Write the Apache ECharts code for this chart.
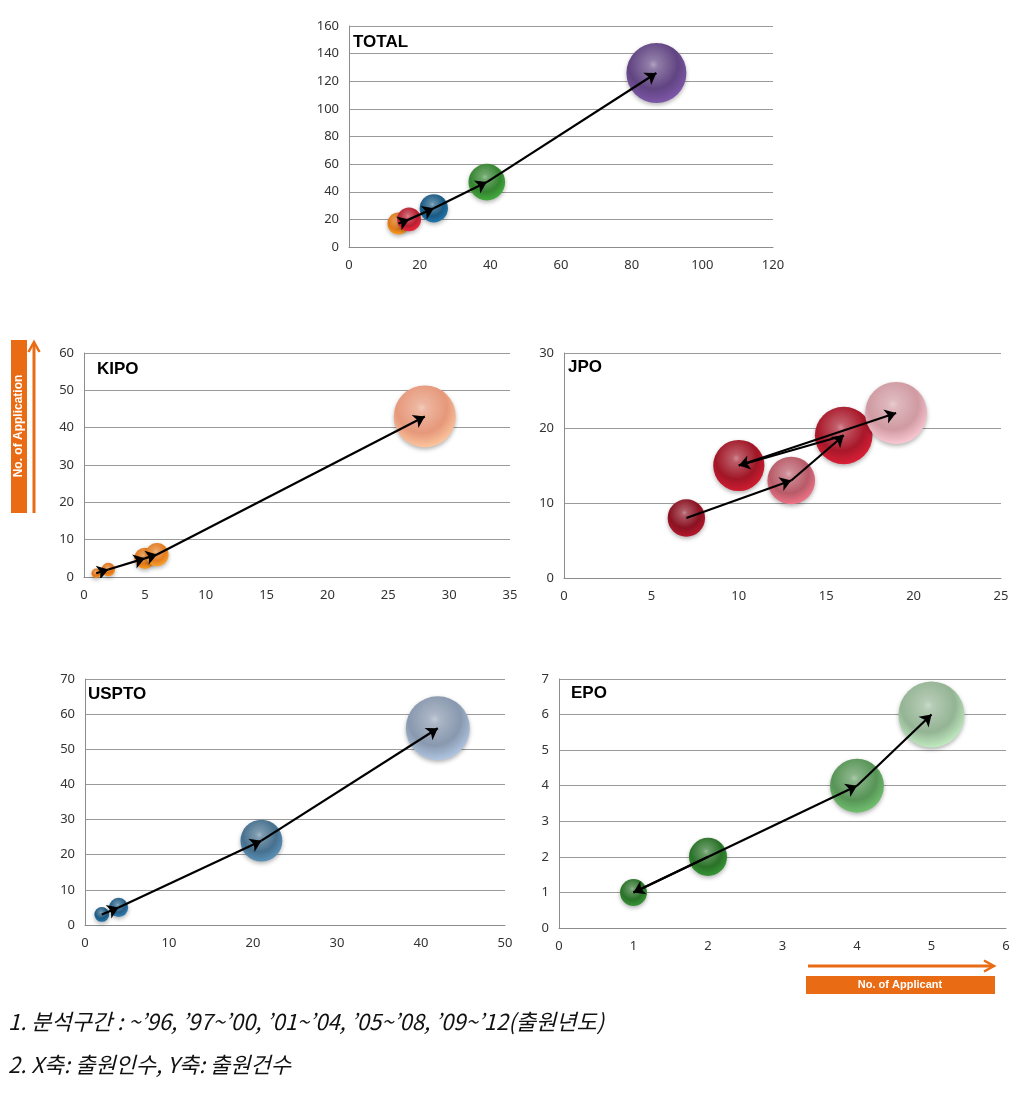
<!DOCTYPE html>
<html><head><meta charset="utf-8">
<script src="https://cdn.jsdelivr.net/npm/echarts@6/dist/echarts.min.js"></script>
<style>html,body{margin:0;padding:0;background:#fff}#c{width:1030px;height:1093px}</style>
</head><body><div id="c"></div>
<script>
// ---- data (x: 출원인수, y: 출원건수), in chronological order of periods ----
const totalX = [14, 17, 24, 39, 87];
const totalY = [17, 20, 28, 47, 126];
const kipoX  = [1, 2, 5, 6, 28];
const kipoY  = [1, 2, 5, 6, 43];
const jpoX   = [7, 13, 16, 10, 19];
const jpoY   = [8, 13, 19, 15, 22];
const usptoX = [2, 4, 21, 42];
const usptoY = [3, 5, 24, 56];
const epoX   = [2, 1, 4, 5];
const epoY   = [2, 1, 4, 6];

// tick labels
const totalXTicks = [0, 20, 40, 60, 80, 100, 120];
const totalYTicks = [0, 20, 40, 60, 80, 100, 120, 140, 160];
const kipoXTicks  = [0, 5, 10, 15, 20, 25, 30, 35];
const kipoYTicks  = [0, 10, 20, 30, 40, 50, 60];
const jpoXTicks   = [0, 5, 10, 15, 20, 25];
const jpoYTicks   = [0, 10, 20, 30];
const usptoXTicks = [0, 10, 20, 30, 40, 50];
const usptoYTicks = [0, 10, 20, 30, 40, 50, 60, 70];
const epoXTicks   = [0, 1, 2, 3, 4, 5, 6];
const epoYTicks   = [0, 1, 2, 3, 4, 5, 6, 7];

const panelNames = ['TOTAL', 'KIPO', 'JPO', 'USPTO', 'EPO'];

// ---- styles ----
const totalColors = ['#e07818', '#b81e30', '#1a5a84', '#348430', '#614482'];
const kipoColors  = ['#e07216', '#e07216', '#e27818', '#e27c20', '#e6987a'];
const jpoColors   = ['#8a1222', '#b85a68', '#a8182a', '#a01626', '#d09aa2'];
const usptoColors = ['#1c5a82', '#245f88', '#46708e', '#8898ae'];
const epoColors   = ['#2a7228', '#2a7228', '#579456', '#94b494'];

const panels = [
  {xs: totalX, ys: totalY, colors: totalColors, xt: totalXTicks, yt: totalYTicks, grid: {left: 349, top: 26, width: 424, height: 221}, maxD: 60, title: [353, 42]},
  {xs: kipoX, ys: kipoY, colors: kipoColors, xt: kipoXTicks, yt: kipoYTicks, grid: {left: 84, top: 353, width: 426, height: 224}, maxD: 62, title: [97, 369]},
  {xs: jpoX, ys: jpoY, colors: jpoColors, xt: jpoXTicks, yt: jpoYTicks, grid: {left: 564, top: 353, width: 437, height: 225}, maxD: 62, title: [568, 367]},
  {xs: usptoX, ys: usptoY, colors: usptoColors, xt: usptoXTicks, yt: usptoYTicks, grid: {left: 85, top: 679, width: 420, height: 246}, maxD: 64, title: [88, 694]},
  {xs: epoX, ys: epoY, colors: epoColors, xt: epoXTicks, yt: epoYTicks, grid: {left: 559, top: 679, width: 447, height: 249}, maxD: 66, title: [571, 693]}
];

function sphere(c) {
  return {
    type: 'radial', x: 0.45, y: 0.36, r: 0.68,
    colorStops: [
      {offset: 0, color: echarts.color.lift(c, 0.5)},
      {offset: 0.12, color: echarts.color.lift(c, 0.3)},
      {offset: 0.6, color: c},
      {offset: 1, color: echarts.color.lift(c, -0.35)}
    ]
  };
}

const FONT = "'Noto Sans', 'Liberation Sans', sans-serif";
const grids = [], xAxes = [], yAxes = [], series = [], graphics = [];

panels.forEach((p, k) => {
  grids.push(Object.assign({containLabel: false}, p.grid));
  const ax = (ticks) => ({min: ticks[0], max: ticks[ticks.length - 1], interval: ticks[1] - ticks[0]});
  xAxes.push(Object.assign({
    type: 'value', gridIndex: k,
    axisLine: {show: true, onZero: false, lineStyle: {color: '#8c8c8c', width: 1}},
    axisTick: {show: false}, splitLine: {show: false},
    axisLabel: {color: '#333', fontSize: 13, margin: 12, fontFamily: FONT}
  }, ax(p.xt)));
  yAxes.push(Object.assign({
    type: 'value', gridIndex: k,
    axisLine: {show: true, lineStyle: {color: '#8c8c8c', width: 1}},
    axisTick: {show: false},
    splitLine: {show: true, lineStyle: {color: '#9a9a9a', width: 1}},
    axisLabel: {color: '#333', fontSize: 13, margin: 10, fontFamily: FONT}
  }, ax(p.yt)));
  const maxY = Math.max(...p.ys);
  series.push({
    type: 'scatter', xAxisIndex: k, yAxisIndex: k, z: 2,
    data: p.xs.map((x, i) => ({
      value: [x, p.ys[i]],
      symbolSize: p.maxD * Math.sqrt(p.ys[i] / maxY),
      itemStyle: {color: sphere(p.colors[i]), opacity: 1, shadowBlur: 4, shadowOffsetY: 2, shadowColor: 'rgba(0,0,0,0.3)'}
    })),
    emphasis: {disabled: true}, silent: true
  });
  const segs = [];
  for (let i = 0; i < p.xs.length - 1; i++) {
    segs.push({coords: [[p.xs[i], p.ys[i]], [p.xs[i + 1], p.ys[i + 1]]]});
  }
  series.push({
    type: 'lines', coordinateSystem: 'cartesian2d', xAxisIndex: k, yAxisIndex: k, z: 5,
    symbol: ['none', 'arrow'], symbolSize: 11,
    lineStyle: {color: '#000', width: 2.2, opacity: 1, curveness: 0},
    data: segs, silent: true
  });
  graphics.push({
    type: 'text', left: p.title[0], top: p.title[1] - 8,
    style: {text: panelNames[k], font: "bold 17px 'Liberation Sans', sans-serif", fill: '#000'}
  });
});

const ORANGE = '#e96b14';
graphics.push(
  {type: 'rect', shape: {x: 11, y: 340, width: 16, height: 173}, style: {fill: ORANGE}},
  {type: 'text', x: 19, y: 426, rotation: Math.PI / 2,
   style: {text: 'No. of Application', font: "bold 12px 'Liberation Sans', sans-serif", fill: '#fff', align: 'center', verticalAlign: 'middle'}},
  {type: 'line', shape: {x1: 34, y1: 513, x2: 34, y2: 343}, style: {stroke: ORANGE, lineWidth: 3}},
  {type: 'polyline', shape: {points: [[28.5, 352], [34, 342], [39.5, 352]]}, style: {stroke: ORANGE, lineWidth: 2.5, fill: null}},
  {type: 'line', shape: {x1: 808, y1: 966, x2: 993, y2: 966}, style: {stroke: ORANGE, lineWidth: 3}},
  {type: 'polyline', shape: {points: [[984, 960.5], [994, 966], [984, 971.5]]}, style: {stroke: ORANGE, lineWidth: 2.5, fill: null}},
  {type: 'rect', shape: {x: 806, y: 976, width: 189, height: 18}, style: {fill: ORANGE}},
  {type: 'text', x: 900, y: 985,
   style: {text: 'No. of Applicant', font: "bold 11px 'Liberation Sans', sans-serif", fill: '#fff', align: 'center', verticalAlign: 'middle'}},
  {type: 'text', x: 8, y: 1022,
   style: {text: '1. 분석구간 : ~’96, ’97~’00, ’01~’04, ’05~’08, ’09~’12(출원년도)', font: "italic 22px 'Noto Sans CJK KR', sans-serif", fill: '#111', verticalAlign: 'middle'}},
  {type: 'text', x: 8, y: 1065,
   style: {text: '2. X축: 출원인수, Y축: 출원건수', font: "italic 22px 'Noto Sans CJK KR', sans-serif", fill: '#111', verticalAlign: 'middle'}}
);

const chart = echarts.init(document.getElementById('c'), null, {renderer: 'canvas'});
chart.setOption({
  animation: false,
  backgroundColor: '#fff',
  grid: grids, xAxis: xAxes, yAxis: yAxes, series: series, graphic: graphics
});
</script></body></html>
